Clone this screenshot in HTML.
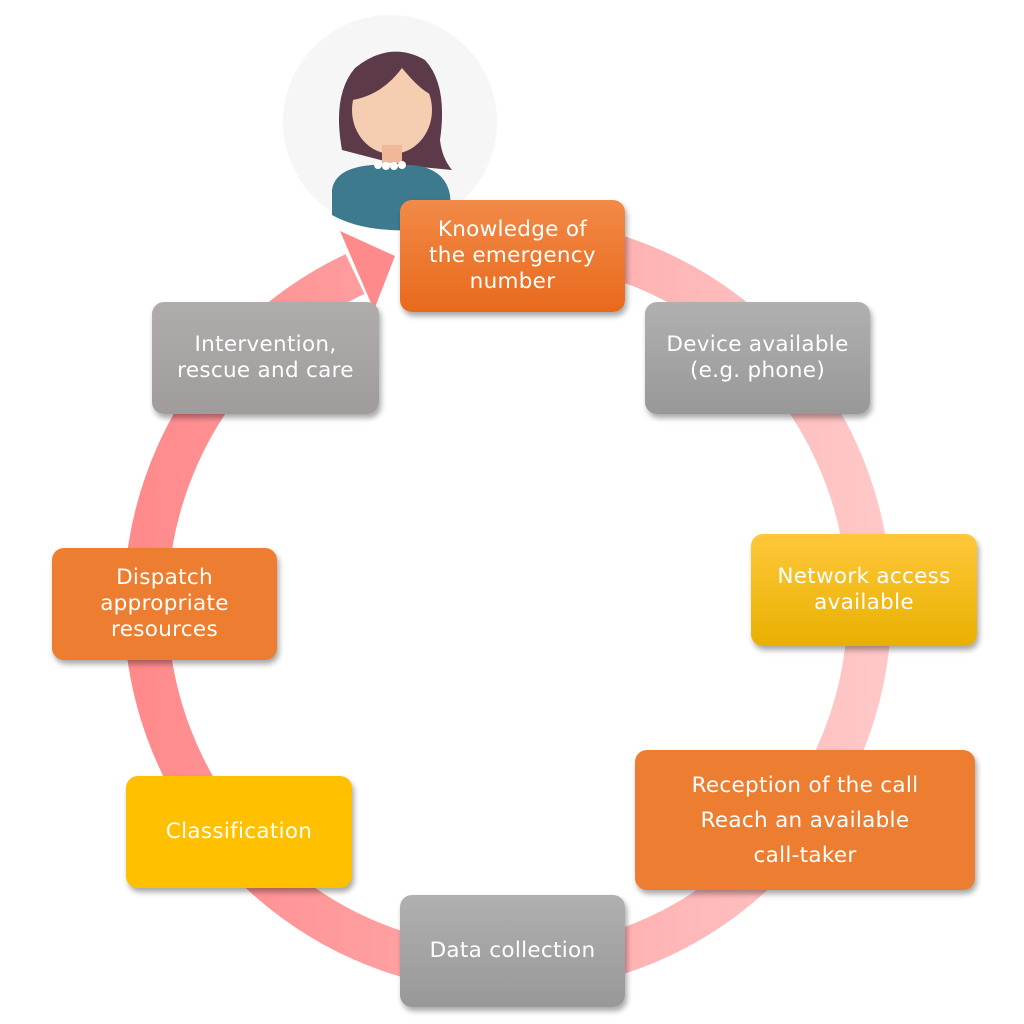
<!DOCTYPE html>
<html><head><meta charset="utf-8"><style>
body{margin:0;width:1024px;height:1024px;background:#fff;position:relative;overflow:hidden;font-family:"DejaVu Sans","Liberation Sans",sans-serif}
.b{position:absolute;border-radius:12px;color:#fff;font-size:21.5px;line-height:26px;display:flex;align-items:center;justify-content:center;text-align:center;box-shadow:2px 4px 6px rgba(0,0,0,.35);letter-spacing:.3px}
.o{background:linear-gradient(#f28a48,#e8691c)}
.oo{background:#ed7d31}
.g{background:linear-gradient(#b0b0b0,#989898)}
.y{background:linear-gradient(#ffc83a,#e8b000)}
.yy{background:#ffc000}
</style></head><body>
<svg width="1024" height="1024" style="position:absolute;left:0;top:0">
<defs><linearGradient id="rg" gradientUnits="userSpaceOnUse" x1="140" y1="0" x2="885" y2="0"><stop offset="0" stop-color="#ff8a8c"/><stop offset="1" stop-color="#ffc8c8"/></linearGradient></defs>
<path d="M 512 240 A 362 365 0 1 1 355 274" fill="none" stroke="url(#rg)" stroke-width="44"/>
<polygon points="340,231 395,256 374,310" fill="#ff8a8c"/>
<circle cx="390" cy="122" r="107" fill="#f6f6f6"/>
<path d="M342 150 Q332 95 355 68 Q390 40 425 60 Q448 85 440 140 Q442 158 452 170 L400 165 Z" fill="#5c3a4a"/>
<ellipse cx="392" cy="110" rx="40" ry="44" fill="#f5cdb0"/>
<path d="M352 100 Q382 95 402 68 Q420 90 432 95 L430 70 Q400 55 360 70 Z" fill="#5c3a4a"/>
<rect x="382" y="145" width="20" height="18" fill="#f0b898"/>
<path d="M332 190 Q335 168 372 165 L412 165 Q445 168 450 195 L452 222 Q420 232 390 230 Q355 228 332 215 Z" fill="#3d7a8e"/>
<circle cx="378" cy="165" r="4" fill="#fff"/><circle cx="386" cy="166" r="4" fill="#fff"/><circle cx="394" cy="166" r="4" fill="#fff"/><circle cx="402" cy="165" r="4" fill="#fff"/>
</svg>
<div class="b o" style="left:400px;top:200px;width:225px;height:112px">Knowledge of<br>the emergency<br>number</div>
<div class="b g" style="left:645px;top:302px;width:225px;height:112px">Device available<br>(e.g. phone)</div>
<div class="b y" style="left:751px;top:534px;width:226px;height:112px">Network access<br>available</div>
<div class="b oo" style="left:635px;top:750px;width:340px;height:140px;line-height:35px">Reception of the call<br>Reach an available<br>call-taker</div>
<div class="b g" style="left:400px;top:895px;width:225px;height:112px">Data collection</div>
<div class="b yy" style="left:126px;top:776px;width:226px;height:112px">Classification</div>
<div class="b oo" style="left:52px;top:548px;width:225px;height:112px">Dispatch<br>appropriate<br>resources</div>
<div class="b g" style="left:152px;top:302px;width:227px;height:112px;background:linear-gradient(#b0acac,#a09c9c)">Intervention,<br>rescue and care</div>
</body></html>
